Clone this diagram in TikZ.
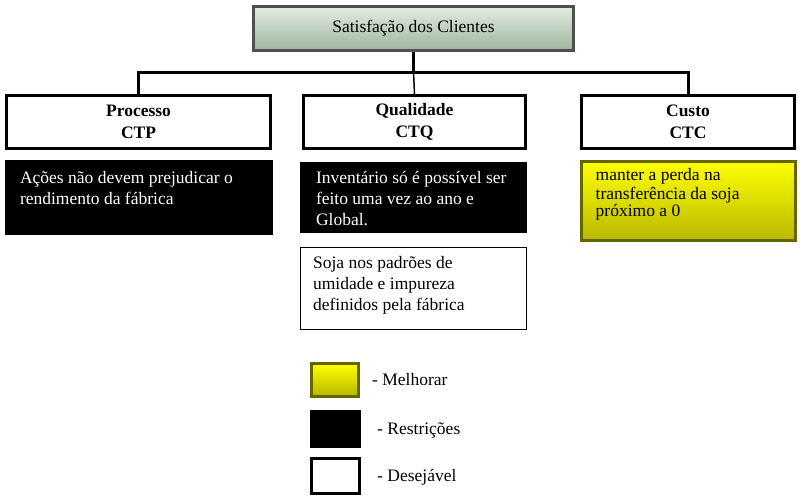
\documentclass[tikz,border=0pt]{standalone}
\usepackage{fontspec}
\setmainfont{Liberation Serif}
\definecolor{sageTop}{HTML}{E3ECE3}
\definecolor{sageBot}{HTML}{9DB59D}
\definecolor{frameGray}{HTML}{505050}
\definecolor{oliveFrame}{HTML}{666600}
\definecolor{yellowBot}{HTML}{B8B800}
\tikzset{
  headbox/.style={draw, line width=3pt, fill=white, minimum height=53pt, align=center,
    inner sep=0pt, font=\bfseries\fontsize{17.5}{22}\selectfont},
  restrbox/.style={fill=black, inner sep=0pt},
  wishbox/.style={draw, line width=1.2pt, fill=white, inner sep=0pt},
  betterbox/.style={draw=oliveFrame, line width=3pt, top color=yellow, bottom color=yellowBot, inner sep=0pt},
  boxtext/.style={anchor=north west, align=left, inner sep=0pt, font=\fontsize{17.5}{21}\selectfont},
  legendtext/.style={anchor=west, inner sep=0pt, font=\fontsize{17.5}{20}\selectfont},
}
\begin{document}
\begin{tikzpicture}[x=1pt,y=1pt]
\useasboundingbox (0,0) rectangle (800,-499);
\node[draw=frameGray, line width=3pt, top color=sageTop, bottom color=sageBot,
  minimum width=320pt, minimum height=44pt, inner sep=0pt,
  font=\fontsize{17.5}{20}\selectfont] (top) at (413.5,-28.5) {Satisfação dos Clientes};
\node[headbox, minimum width=264pt] (proc) at (138.5,-122) {Processo\\CTP};
\node[headbox, minimum width=222pt] (qual) at (414.5,-122) {Qualidade\\CTQ};
\node[headbox, minimum width=213pt] (cust) at (688,-122) {Custo\\CTC};
% ligacoes
\coordinate (bus) at (413.5,-72);
\draw[line width=3pt] (top.south) -- (bus);
\draw[line width=3pt] (proc.north) |- (bus);
\draw[line width=3pt] (cust.north) |- (bus);
\draw[line width=1.5pt] (bus) -- (qual.north);
% caixas de requisitos
\node[restrbox, minimum width=268pt, minimum height=75pt] (acoes) at (139,-197.5) {};
\node[boxtext, text=white] (acoesText) at ([xshift=15pt,yshift=-9pt]acoes.north west)
  {\strut Ações não devem prejudicar o\\rendimento da fábrica};
\node[restrbox, minimum width=227pt, minimum height=71pt] (invent) at (413.5,-197.5) {};
\node[boxtext, text=white] (inventText) at ([xshift=16pt,yshift=-7pt]invent.north west)
  {\strut Inventário só é possível ser\\feito uma vez ao ano e\\Global.};
\node[wishbox, minimum width=226pt, minimum height=82pt] (soja) at (413.5,-288.5) {};
\node[boxtext] (sojaText) at ([xshift=13pt,yshift=-7pt]soja.north west)
  {\strut Soja nos padrões de\\umidade e impureza\\definidos pela fábrica};
\node[betterbox, minimum width=214pt, minimum height=79pt] (perda) at (688.5,-201) {};
\node[boxtext, font=\fontsize{17.5}{17.5}\selectfont] (perdaText) at ([xshift=15.5pt,yshift=-8pt]perda.north west)
  {\strut manter a perda na\\transferência da soja\\próximo a 0};
% legenda
\node[betterbox, minimum width=47pt, minimum height=33pt] (legBetter) at (335,-380) {};
\node[restrbox, minimum width=51pt, minimum height=38pt] (legRestr) at (335.5,-429) {};
\node[draw, line width=3pt, fill=white, minimum width=48pt, minimum height=35pt, inner sep=0pt] (legWish) at (335.5,-476) {};
\node[legendtext] (legBetterText) at (372,-380) {- Melhorar};
\node[legendtext] (legRestrText) at (377,-430) {- Restrições};
\node[legendtext] (legWishText) at (377,-477) {- Desejável};
\end{tikzpicture}
\end{document}
